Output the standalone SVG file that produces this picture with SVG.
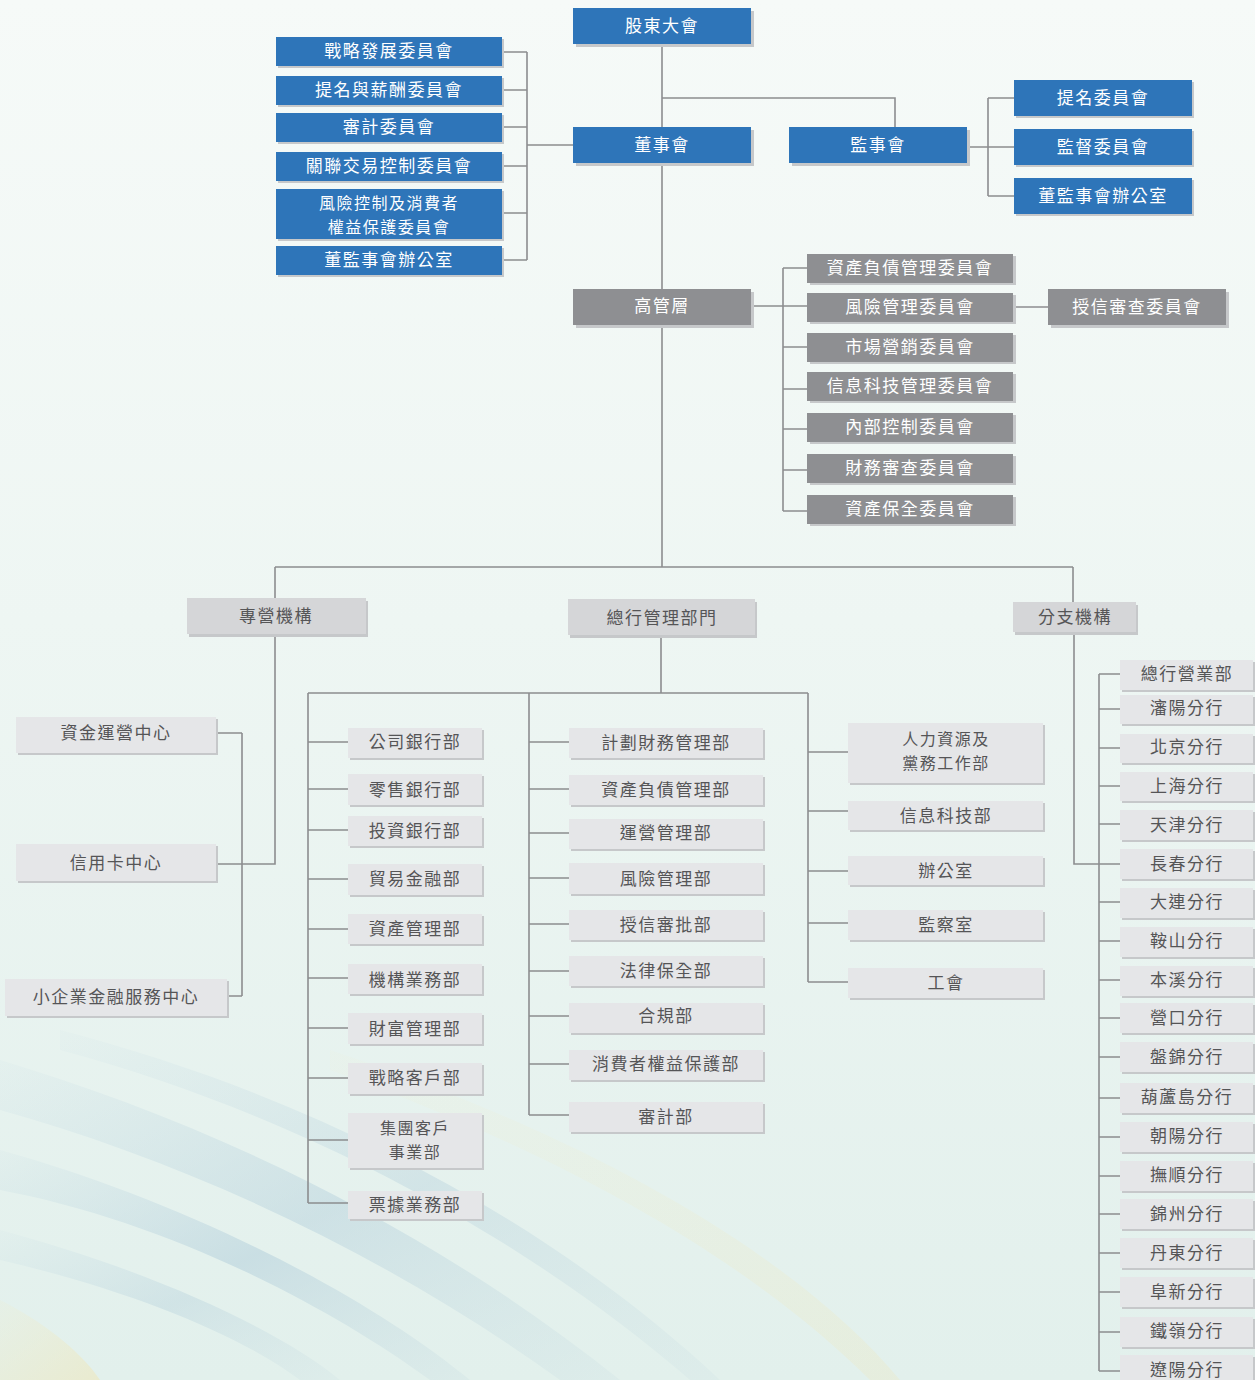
<svg xmlns="http://www.w3.org/2000/svg" width="1255" height="1380" viewBox="0 0 1255 1380">
<defs>
<linearGradient id="bg" x1="0" y1="0" x2="0" y2="1">
<stop offset="0" stop-color="#f6faf8"/>
<stop offset="0.45" stop-color="#eef6f3"/>
<stop offset="1" stop-color="#e2f0ec"/>
</linearGradient>
<linearGradient id="sw1" x1="0" y1="0" x2="1" y2="1">
<stop offset="0" stop-color="#b4d0de" stop-opacity="0.1"/>
<stop offset="0.5" stop-color="#aecbd9" stop-opacity="0.7"/>
<stop offset="1" stop-color="#c3d9e0" stop-opacity="0.3"/>
</linearGradient>
<linearGradient id="sw2" x1="0" y1="0" x2="1" y2="1">
<stop offset="0" stop-color="#f1ecc8" stop-opacity="0.2"/>
<stop offset="1" stop-color="#efe6b8" stop-opacity="0.7"/>
</linearGradient>
</defs>
<style>
.sh{fill:#c6c8ca}
.b{fill:#2e75b9}
.g{fill:#8e8f92}
.d{fill:#d5d6d8}
.l{fill:#e5e6e8}
text{font-family:"Noto Sans CJK TC","Noto Sans CJK SC",sans-serif;font-size:17px;letter-spacing:1.5px;text-anchor:middle;dominant-baseline:central;transform:translateY(-1.5px)}
text.s{font-size:16px}
.tw{fill:#ffffff}
.tk{fill:#555557}
.cn path{fill:none;stroke:#8c8d8f;stroke-width:1.6}
</style>
<rect x="0" y="0" width="1255" height="1380" fill="url(#bg)"/>
<g id="background-swoosh">
<path d="M0,1060 C200,1120 420,1220 620,1380 L560,1380 C380,1250 180,1160 0,1110 Z" fill="url(#sw1)" opacity="0.6"/>
<path d="M0,1150 C180,1200 360,1290 470,1380 L430,1380 C320,1300 160,1220 0,1190 Z" fill="url(#sw1)" opacity="0.7"/>
<path d="M60,1030 C330,1100 560,1230 720,1380 L690,1380 C540,1250 320,1120 60,1050 Z" fill="url(#sw1)" opacity="0.5"/>
<path d="M0,1230 C150,1270 280,1330 340,1380 L300,1380 C240,1335 130,1290 0,1260 Z" fill="url(#sw1)" opacity="0.5"/>
<path d="M0,1300 C40,1320 80,1350 100,1380 L0,1380 Z" fill="url(#sw2)" opacity="0.8"/>
<path d="M330,1050 C600,1140 800,1260 900,1380 L870,1380 C760,1270 580,1160 330,1070 Z" fill="url(#sw2)" opacity="0.4"/>
</g>
<g class="cn" id="connectors">
<path d="M662,44 V567"/>
<path d="M662,98 H895 V127"/>
<path d="M502,52 H527 M502,90 H527 M502,127 H527 M502,166 H527 M502,213 H527 M502,260 H527 M527,52 V260 M527,145 H573"/>
<path d="M967,147 H1014 M988,98 V196 M988,98 H1014 M988,196 H1014"/>
<path d="M751,306 H807 M783,268 V511 M783,268 H807 M783,347 H807 M783,389 H807 M783,429 H807 M783,470 H807 M783,511 H807"/>
<path d="M1013,307 H1048"/>
<path d="M275,567 H1073 M275,567 V598 M1073,567 V602"/>
<path d="M275,634 V864 H216 M242,733 V996 M216,733 H242 M227,996 H242"/>
<path d="M661,635 V693 M308,693 H808 M308,693 V1203 M529,693 V1115 M808,693 V982"/>
<path d="M308,742 H348 M308,789 H348 M308,830 H348 M308,879 H348 M308,929 H348 M308,978 H348 M308,1028 H348 M308,1078 H348 M308,1140 H348 M308,1203 H348"/>
<path d="M529,742 H569 M529,789 H569 M529,833 H569 M529,878 H569 M529,924 H569 M529,971 H569 M529,1016 H569 M529,1064 H569 M529,1115 H569"/>
<path d="M808,752 H848 M808,811 H848 M808,871 H848 M808,923 H848 M808,982 H848"/>
<path d="M1074,632 V864 H1120 M1099,674 V1371"/>
<path d="M1099,674 H1120 M1099,709 H1120 M1099,748 H1120 M1099,786 H1120 M1099,824 H1120 M1099,902 H1120 M1099,941 H1120 M1099,980 H1120 M1099,1018 H1120 M1099,1057 H1120 M1099,1098 H1120 M1099,1137 H1120 M1099,1176 H1120 M1099,1214 H1120 M1099,1253 H1120 M1099,1292 H1120 M1099,1332 H1120 M1099,1371 H1120"/>
</g>
<!-- Governance -->
<g id="n-gudong"><rect class="sh" x="576" y="11" width="178" height="36"/><rect class="b" x="573" y="8" width="178" height="36"/><text class="tw" x="662" y="26">股東大會</text></g>
<g id="n-dongshihui"><rect class="sh" x="576" y="130" width="178" height="36"/><rect class="b" x="573" y="127" width="178" height="36"/><text class="tw" x="662" y="145">董事會</text></g>
<g id="n-jianshihui"><rect class="sh" x="792" y="130" width="178" height="36"/><rect class="b" x="789" y="127" width="178" height="36"/><text class="tw" x="878" y="145">監事會</text></g>
<g id="n-c1"><rect class="sh" x="278" y="39" width="226" height="29"/><rect class="b" x="276" y="37" width="226" height="29"/><text class="tw" x="389" y="51">戰略發展委員會</text></g>
<g id="n-c2"><rect class="sh" x="278" y="78" width="226" height="29"/><rect class="b" x="276" y="76" width="226" height="29"/><text class="tw" x="389" y="90">提名與薪酬委員會</text></g>
<g id="n-c3"><rect class="sh" x="278" y="115" width="226" height="29"/><rect class="b" x="276" y="113" width="226" height="29"/><text class="tw" x="389" y="127">審計委員會</text></g>
<g id="n-c4"><rect class="sh" x="278" y="154" width="226" height="29"/><rect class="b" x="276" y="152" width="226" height="29"/><text class="tw" x="389" y="166">關聯交易控制委員會</text></g>
<g id="n-c5"><rect class="sh" x="278" y="191" width="226" height="50"/><rect class="b" x="276" y="189" width="226" height="50"/><text class="tw s" x="389" y="203">風險控制及消費者</text><text class="tw s" x="389" y="227">權益保護委員會</text></g>
<g id="n-c6"><rect class="sh" x="278" y="248" width="226" height="29"/><rect class="b" x="276" y="246" width="226" height="29"/><text class="tw" x="389" y="260">董監事會辦公室</text></g>
<g id="n-s1"><rect class="sh" x="1016" y="82" width="178" height="36"/><rect class="b" x="1014" y="80" width="178" height="36"/><text class="tw" x="1103" y="98">提名委員會</text></g>
<g id="n-s2"><rect class="sh" x="1016" y="131" width="178" height="36"/><rect class="b" x="1014" y="129" width="178" height="36"/><text class="tw" x="1103" y="147">監督委員會</text></g>
<g id="n-s3"><rect class="sh" x="1016" y="180" width="178" height="36"/><rect class="b" x="1014" y="178" width="178" height="36"/><text class="tw" x="1103" y="196">董監事會辦公室</text></g>
<!-- Senior management -->
<g id="n-gaoguan"><rect class="sh" x="576" y="292" width="178" height="36"/><rect class="g" x="573" y="289" width="178" height="36"/><text class="tw" x="662" y="306">高管層</text></g>
<g id="n-m1"><rect class="sh" x="810" y="256" width="206" height="29"/><rect class="g" x="807" y="254" width="206" height="29"/><text class="tw" x="910" y="268">資產負債管理委員會</text></g>
<g id="n-m2"><rect class="sh" x="810" y="295" width="206" height="29"/><rect class="g" x="807" y="293" width="206" height="29"/><text class="tw" x="910" y="307">風險管理委員會</text></g>
<g id="n-m3"><rect class="sh" x="810" y="335" width="206" height="29"/><rect class="g" x="807" y="333" width="206" height="29"/><text class="tw" x="910" y="347">市場營銷委員會</text></g>
<g id="n-m4"><rect class="sh" x="810" y="374" width="206" height="29"/><rect class="g" x="807" y="372" width="206" height="29"/><text class="tw" x="910" y="386">信息科技管理委員會</text></g>
<g id="n-m5"><rect class="sh" x="810" y="415" width="206" height="29"/><rect class="g" x="807" y="413" width="206" height="29"/><text class="tw" x="910" y="427">內部控制委員會</text></g>
<g id="n-m6"><rect class="sh" x="810" y="456" width="206" height="29"/><rect class="g" x="807" y="454" width="206" height="29"/><text class="tw" x="910" y="468">財務審查委員會</text></g>
<g id="n-m7"><rect class="sh" x="810" y="497" width="206" height="29"/><rect class="g" x="807" y="495" width="206" height="29"/><text class="tw" x="910" y="509">資產保全委員會</text></g>
<g id="n-m8"><rect class="sh" x="1051" y="292" width="178" height="36"/><rect class="g" x="1048" y="289" width="178" height="36"/><text class="tw" x="1137" y="307">授信審查委員會</text></g>
<!-- Level 2 -->
<g id="n-zhuanying"><rect class="sh" x="189" y="601" width="179" height="36"/><rect class="d" x="187" y="598" width="179" height="36"/><text class="tk" x="276" y="616">專營機構</text></g>
<g id="n-zonghang"><rect class="sh" x="570" y="602" width="187" height="36"/><rect class="d" x="568" y="599" width="187" height="36"/><text class="tk" x="662" y="618">總行管理部門</text></g>
<g id="n-fenzhi"><rect class="sh" x="1015" y="605" width="123" height="30"/><rect class="d" x="1013" y="602" width="123" height="30"/><text class="tk" x="1075" y="617">分支機構</text></g>
<!-- Specialised -->
<g id="n-z1"><rect class="sh" x="18" y="719" width="200" height="36"/><rect class="l" x="16" y="717" width="200" height="36"/><text class="tk" x="116" y="733">資金運營中心</text></g>
<g id="n-z2"><rect class="sh" x="18" y="846" width="200" height="37"/><rect class="l" x="16" y="844" width="200" height="37"/><text class="tk" x="116" y="863">信用卡中心</text></g>
<g id="n-z3"><rect class="sh" x="7" y="981" width="222" height="37"/><rect class="l" x="5" y="979" width="222" height="37"/><text class="tk" x="116" y="997">小企業金融服務中心</text></g>
<!-- HQ left column -->
<g id="n-a1"><rect class="sh" x="350" y="730" width="134" height="30"/><rect class="l" x="348" y="728" width="134" height="30"/><text class="tk" x="415" y="742">公司銀行部</text></g>
<g id="n-a2"><rect class="sh" x="350" y="776" width="134" height="31"/><rect class="l" x="348" y="774" width="134" height="31"/><text class="tk" x="415" y="790">零售銀行部</text></g>
<g id="n-a3"><rect class="sh" x="350" y="818" width="134" height="30"/><rect class="l" x="348" y="816" width="134" height="30"/><text class="tk" x="415" y="831">投資銀行部</text></g>
<g id="n-a4"><rect class="sh" x="350" y="866" width="134" height="31"/><rect class="l" x="348" y="864" width="134" height="31"/><text class="tk" x="415" y="879">貿易金融部</text></g>
<g id="n-a5"><rect class="sh" x="350" y="916" width="134" height="30"/><rect class="l" x="348" y="914" width="134" height="30"/><text class="tk" x="415" y="929">資產管理部</text></g>
<g id="n-a6"><rect class="sh" x="350" y="966" width="134" height="30"/><rect class="l" x="348" y="964" width="134" height="30"/><text class="tk" x="415" y="980">機構業務部</text></g>
<g id="n-a7"><rect class="sh" x="350" y="1015" width="134" height="31"/><rect class="l" x="348" y="1013" width="134" height="31"/><text class="tk" x="415" y="1029">財富管理部</text></g>
<g id="n-a8"><rect class="sh" x="350" y="1065" width="134" height="31"/><rect class="l" x="348" y="1063" width="134" height="31"/><text class="tk" x="415" y="1078">戰略客戶部</text></g>
<g id="n-a9"><rect class="sh" x="350" y="1115" width="134" height="55"/><rect class="l" x="348" y="1113" width="134" height="55"/><text class="tk s" x="415" y="1128">集團客戶</text><text class="tk s" x="415" y="1152">事業部</text></g>
<g id="n-a10"><rect class="sh" x="350" y="1193" width="134" height="28"/><rect class="l" x="348" y="1191" width="134" height="28"/><text class="tk" x="415" y="1205">票據業務部</text></g>
<!-- HQ middle column -->
<g id="n-b1"><rect class="sh" x="571" y="730" width="194" height="30"/><rect class="l" x="569" y="728" width="194" height="30"/><text class="tk" x="666" y="743">計劃財務管理部</text></g>
<g id="n-b2"><rect class="sh" x="571" y="777" width="194" height="30"/><rect class="l" x="569" y="775" width="194" height="30"/><text class="tk" x="666" y="790">資產負債管理部</text></g>
<g id="n-b3"><rect class="sh" x="571" y="821" width="194" height="30"/><rect class="l" x="569" y="819" width="194" height="30"/><text class="tk" x="666" y="833">運營管理部</text></g>
<g id="n-b4"><rect class="sh" x="571" y="865" width="194" height="31"/><rect class="l" x="569" y="863" width="194" height="31"/><text class="tk" x="666" y="879">風險管理部</text></g>
<g id="n-b5"><rect class="sh" x="571" y="912" width="194" height="30"/><rect class="l" x="569" y="910" width="194" height="30"/><text class="tk" x="666" y="925">授信審批部</text></g>
<g id="n-b6"><rect class="sh" x="571" y="958" width="194" height="30"/><rect class="l" x="569" y="956" width="194" height="30"/><text class="tk" x="666" y="971">法律保全部</text></g>
<g id="n-b7"><rect class="sh" x="571" y="1005" width="194" height="30"/><rect class="l" x="569" y="1003" width="194" height="30"/><text class="tk" x="666" y="1016">合規部</text></g>
<g id="n-b8"><rect class="sh" x="571" y="1052" width="194" height="30"/><rect class="l" x="569" y="1050" width="194" height="30"/><text class="tk" x="666" y="1064">消費者權益保護部</text></g>
<g id="n-b9"><rect class="sh" x="571" y="1104" width="194" height="30"/><rect class="l" x="569" y="1102" width="194" height="30"/><text class="tk" x="666" y="1117">審計部</text></g>
<!-- HQ right column -->
<g id="n-r1"><rect class="sh" x="850" y="725" width="195" height="60"/><rect class="l" x="848" y="723" width="195" height="60"/><text class="tk s" x="946" y="739">人力資源及</text><text class="tk s" x="946" y="763">黨務工作部</text></g>
<g id="n-r2"><rect class="sh" x="850" y="803" width="195" height="29"/><rect class="l" x="848" y="801" width="195" height="29"/><text class="tk" x="946" y="816">信息科技部</text></g>
<g id="n-r3"><rect class="sh" x="850" y="858" width="195" height="29"/><rect class="l" x="848" y="856" width="195" height="29"/><text class="tk" x="946" y="871">辦公室</text></g>
<g id="n-r4"><rect class="sh" x="850" y="912" width="195" height="30"/><rect class="l" x="848" y="910" width="195" height="30"/><text class="tk" x="946" y="925">監察室</text></g>
<g id="n-r5"><rect class="sh" x="850" y="970" width="195" height="30"/><rect class="l" x="848" y="968" width="195" height="30"/><text class="tk" x="946" y="983">工會</text></g>
<!-- Branches -->
<g id="n-f1"><rect class="sh" x="1122" y="662" width="133" height="30"/><rect class="l" x="1120" y="660" width="133" height="30"/><text class="tk" x="1187" y="674">總行營業部</text></g>
<g id="n-f2"><rect class="sh" x="1122" y="697" width="133" height="29"/><rect class="l" x="1120" y="695" width="133" height="29"/><text class="tk" x="1187" y="708">瀋陽分行</text></g>
<g id="n-f3"><rect class="sh" x="1122" y="736" width="133" height="29"/><rect class="l" x="1120" y="734" width="133" height="29"/><text class="tk" x="1187" y="747">北京分行</text></g>
<g id="n-f4"><rect class="sh" x="1122" y="774" width="133" height="29"/><rect class="l" x="1120" y="772" width="133" height="29"/><text class="tk" x="1187" y="786">上海分行</text></g>
<g id="n-f5"><rect class="sh" x="1122" y="812" width="133" height="30"/><rect class="l" x="1120" y="810" width="133" height="30"/><text class="tk" x="1187" y="825">天津分行</text></g>
<g id="n-f6"><rect class="sh" x="1122" y="851" width="133" height="30"/><rect class="l" x="1120" y="849" width="133" height="30"/><text class="tk" x="1187" y="864">長春分行</text></g>
<g id="n-f7"><rect class="sh" x="1122" y="890" width="133" height="30"/><rect class="l" x="1120" y="888" width="133" height="30"/><text class="tk" x="1187" y="902">大連分行</text></g>
<g id="n-f8"><rect class="sh" x="1122" y="929" width="133" height="30"/><rect class="l" x="1120" y="927" width="133" height="30"/><text class="tk" x="1187" y="941">鞍山分行</text></g>
<g id="n-f9"><rect class="sh" x="1122" y="968" width="133" height="30"/><rect class="l" x="1120" y="966" width="133" height="30"/><text class="tk" x="1187" y="980">本溪分行</text></g>
<g id="n-f10"><rect class="sh" x="1122" y="1005" width="133" height="30"/><rect class="l" x="1120" y="1003" width="133" height="30"/><text class="tk" x="1187" y="1018">營口分行</text></g>
<g id="n-f11"><rect class="sh" x="1122" y="1044" width="133" height="30"/><rect class="l" x="1120" y="1042" width="133" height="30"/><text class="tk" x="1187" y="1057">盤錦分行</text></g>
<g id="n-f12"><rect class="sh" x="1122" y="1085" width="133" height="30"/><rect class="l" x="1120" y="1083" width="133" height="30"/><text class="tk" x="1187" y="1097">葫蘆島分行</text></g>
<g id="n-f13"><rect class="sh" x="1122" y="1124" width="133" height="30"/><rect class="l" x="1120" y="1122" width="133" height="30"/><text class="tk" x="1187" y="1136">朝陽分行</text></g>
<g id="n-f14"><rect class="sh" x="1122" y="1163" width="133" height="30"/><rect class="l" x="1120" y="1161" width="133" height="30"/><text class="tk" x="1187" y="1175">撫順分行</text></g>
<g id="n-f15"><rect class="sh" x="1122" y="1201" width="133" height="30"/><rect class="l" x="1120" y="1199" width="133" height="30"/><text class="tk" x="1187" y="1214">錦州分行</text></g>
<g id="n-f16"><rect class="sh" x="1122" y="1240" width="133" height="30"/><rect class="l" x="1120" y="1238" width="133" height="30"/><text class="tk" x="1187" y="1253">丹東分行</text></g>
<g id="n-f17"><rect class="sh" x="1122" y="1279" width="133" height="30"/><rect class="l" x="1120" y="1277" width="133" height="30"/><text class="tk" x="1187" y="1292">阜新分行</text></g>
<g id="n-f18"><rect class="sh" x="1122" y="1319" width="133" height="30"/><rect class="l" x="1120" y="1317" width="133" height="30"/><text class="tk" x="1187" y="1331">鐵嶺分行</text></g>
<g id="n-f19"><rect class="sh" x="1122" y="1357" width="133" height="30"/><rect class="l" x="1120" y="1355" width="133" height="30"/><text class="tk" x="1187" y="1370">遼陽分行</text></g>
</svg>
